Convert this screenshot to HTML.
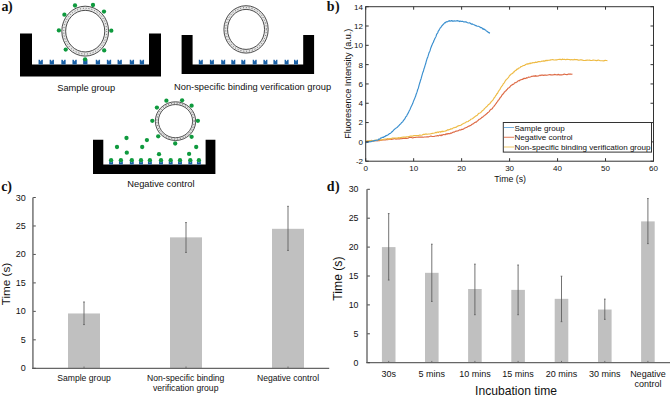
<!DOCTYPE html>
<html><head><meta charset="utf-8"><style>
html,body{margin:0;padding:0;background:#fff;width:671px;height:397px;overflow:hidden;position:relative;font-family:"Liberation Sans",sans-serif}
</style></head><body>
<svg width="671" height="397" viewBox="0 0 671 397" style="position:absolute;left:0;top:0">
<rect width="671" height="397" fill="#fff"/>
<text x="1.5" y="10.8" font-family="Liberation Serif, serif" font-weight="bold" font-size="14" letter-spacing="-0.4" fill="#111">a)</text>
<text x="326.8" y="10.8" font-family="Liberation Serif, serif" font-weight="bold" font-size="14" letter-spacing="0.3" fill="#111">b)</text>
<text x="1.3" y="190.6" font-family="Liberation Serif, serif" font-weight="bold" font-size="14" letter-spacing="-0.3" fill="#111">c)</text>
<text x="326.8" y="190.6" font-family="Liberation Serif, serif" font-weight="bold" font-size="14" letter-spacing="0.3" fill="#111">d)</text>
<path d="M20,33.5 H32 V64.5 H149 V33.5 H161 V76.6 H20 Z" fill="#000"/>
<path d="M38.55,59.8 L39.84,59.8 L40.70,61.5 L41.56,59.8 L42.85,59.8 L42.85,64.5 L38.55,64.5 Z" fill="#1a60a6"/>
<path d="M49.65,59.8 L50.94,59.8 L51.80,61.5 L52.66,59.8 L53.95,59.8 L53.95,64.5 L49.65,64.5 Z" fill="#1a60a6"/>
<path d="M61.35,59.8 L62.64,59.8 L63.50,61.5 L64.36,59.8 L65.65,59.8 L65.65,64.5 L61.35,64.5 Z" fill="#1a60a6"/>
<path d="M72.45,59.8 L73.74,59.8 L74.60,61.5 L75.46,59.8 L76.75,59.8 L76.75,64.5 L72.45,64.5 Z" fill="#1a60a6"/>
<path d="M83.15,59.8 L84.44,59.8 L85.30,61.5 L86.16,59.8 L87.45,59.8 L87.45,64.5 L83.15,64.5 Z" fill="#1a60a6"/>
<path d="M95.75,59.8 L97.04,59.8 L97.90,61.5 L98.76,59.8 L100.05,59.8 L100.05,64.5 L95.75,64.5 Z" fill="#1a60a6"/>
<path d="M106.85,59.8 L108.14,59.8 L109.00,61.5 L109.86,59.8 L111.15,59.8 L111.15,64.5 L106.85,64.5 Z" fill="#1a60a6"/>
<path d="M117.55,59.8 L118.84,59.8 L119.70,61.5 L120.56,59.8 L121.85,59.8 L121.85,64.5 L117.55,64.5 Z" fill="#1a60a6"/>
<path d="M129.75,59.8 L131.04,59.8 L131.90,61.5 L132.76,59.8 L134.05,59.8 L134.05,64.5 L129.75,64.5 Z" fill="#1a60a6"/>
<path d="M139.75,59.8 L141.04,59.8 L141.90,61.5 L142.76,59.8 L144.05,59.8 L144.05,64.5 L139.75,64.5 Z" fill="#1a60a6"/>
<ellipse cx="85.2" cy="31.15" rx="21.48" ry="22.88" fill="none" stroke="#e6e6e6" stroke-width="3.85"/>
<ellipse cx="85.2" cy="31.15" rx="21.48" ry="22.88" fill="none" stroke="#5a5a5a" stroke-width="1" stroke-dasharray="0.9 2"/>
<ellipse cx="85.2" cy="31.15" rx="23.4" ry="24.95" fill="none" stroke="#3a3a3a" stroke-width="0.9"/>
<ellipse cx="85.2" cy="31.15" rx="19.55" ry="20.8" fill="none" stroke="#3a3a3a" stroke-width="0.9"/>
<circle cx="75" cy="5.5" r="2.15" fill="#0f9a3e"/>
<circle cx="93" cy="5" r="2.15" fill="#0f9a3e"/>
<circle cx="104" cy="11.6" r="2.15" fill="#0f9a3e"/>
<circle cx="111.3" cy="30.7" r="2.15" fill="#0f9a3e"/>
<circle cx="104.2" cy="50.4" r="2.15" fill="#0f9a3e"/>
<circle cx="85.1" cy="59.3" r="2.15" fill="#0f9a3e"/>
<circle cx="65.7" cy="49.6" r="2.15" fill="#0f9a3e"/>
<circle cx="58.9" cy="30.4" r="2.15" fill="#0f9a3e"/>
<circle cx="64.4" cy="14.7" r="2.15" fill="#0f9a3e"/>
<text x="86.2" y="91.3" font-family="Liberation Sans, sans-serif" font-size="9.3" fill="#111" text-anchor="middle">Sample group</text>
<path d="M181.6,35 H192.6 V64.6 H303.2 V35 H314.1 V74 H181.6 Z" fill="#000"/>
<path d="M198.80,59.8 L200.00,59.8 L200.80,61.5 L201.60,59.8 L202.80,59.8 L202.80,64.6 L198.80,64.6 Z" fill="#1a60a6"/>
<path d="M209.90,59.8 L211.10,59.8 L211.90,61.5 L212.70,59.8 L213.90,59.8 L213.90,64.6 L209.90,64.6 Z" fill="#1a60a6"/>
<path d="M221.20,59.8 L222.40,59.8 L223.20,61.5 L224.00,59.8 L225.20,59.8 L225.20,64.6 L221.20,64.6 Z" fill="#1a60a6"/>
<path d="M231.30,59.8 L232.50,59.8 L233.30,61.5 L234.10,59.8 L235.30,59.8 L235.30,64.6 L231.30,64.6 Z" fill="#1a60a6"/>
<path d="M241.30,59.8 L242.50,59.8 L243.30,61.5 L244.10,59.8 L245.30,59.8 L245.30,64.6 L241.30,64.6 Z" fill="#1a60a6"/>
<path d="M252.70,59.8 L253.90,59.8 L254.70,61.5 L255.50,59.8 L256.70,59.8 L256.70,64.6 L252.70,64.6 Z" fill="#1a60a6"/>
<path d="M263.40,59.8 L264.60,59.8 L265.40,61.5 L266.20,59.8 L267.40,59.8 L267.40,64.6 L263.40,64.6 Z" fill="#1a60a6"/>
<path d="M273.40,59.8 L274.60,59.8 L275.40,61.5 L276.20,59.8 L277.40,59.8 L277.40,64.6 L273.40,64.6 Z" fill="#1a60a6"/>
<path d="M284.60,59.8 L285.80,59.8 L286.60,61.5 L287.40,59.8 L288.60,59.8 L288.60,64.6 L284.60,64.6 Z" fill="#1a60a6"/>
<path d="M294.00,59.8 L295.20,59.8 L296.00,61.5 L296.80,59.8 L298.00,59.8 L298.00,64.6 L294.00,64.6 Z" fill="#1a60a6"/>
<ellipse cx="246.05" cy="29.4" rx="20.32" ry="21.85" fill="none" stroke="#e6e6e6" stroke-width="3.65"/>
<ellipse cx="246.05" cy="29.4" rx="20.32" ry="21.85" fill="none" stroke="#5a5a5a" stroke-width="1" stroke-dasharray="0.9 2"/>
<ellipse cx="246.05" cy="29.4" rx="22.15" ry="23.7" fill="none" stroke="#3a3a3a" stroke-width="0.9"/>
<ellipse cx="246.05" cy="29.4" rx="18.5" ry="20" fill="none" stroke="#3a3a3a" stroke-width="0.9"/>
<text x="252.6" y="90" font-family="Liberation Sans, sans-serif" font-size="9.3" fill="#111" text-anchor="middle">Non-specific binding verification group</text>
<path d="M93,139.8 H103.3 V164.6 H205.6 V139.8 H215.4 V174.1 H93 Z" fill="#000"/>
<path d="M109.15,161.3 L110.32,161.3 L111.10,163.0 L111.88,161.3 L113.05,161.3 L113.05,164.6 L109.15,164.6 Z" fill="#1a60a6"/>
<circle cx="111.1" cy="160.2" r="2.15" fill="#0f9a3e"/>
<path d="M118.95,161.3 L120.12,161.3 L120.90,163.0 L121.68,161.3 L122.85,161.3 L122.85,164.6 L118.95,164.6 Z" fill="#1a60a6"/>
<circle cx="120.9" cy="160.2" r="2.15" fill="#0f9a3e"/>
<path d="M129.85,161.3 L131.02,161.3 L131.80,163.0 L132.58,161.3 L133.75,161.3 L133.75,164.6 L129.85,164.6 Z" fill="#1a60a6"/>
<circle cx="131.8" cy="160.2" r="2.15" fill="#0f9a3e"/>
<path d="M139.05,161.3 L140.22,161.3 L141.00,163.0 L141.78,161.3 L142.95,161.3 L142.95,164.6 L139.05,164.6 Z" fill="#1a60a6"/>
<circle cx="141" cy="160.2" r="2.15" fill="#0f9a3e"/>
<path d="M147.95,161.3 L149.12,161.3 L149.90,163.0 L150.68,161.3 L151.85,161.3 L151.85,164.6 L147.95,164.6 Z" fill="#1a60a6"/>
<circle cx="149.9" cy="160.2" r="2.15" fill="#0f9a3e"/>
<path d="M159.05,161.3 L160.22,161.3 L161.00,163.0 L161.78,161.3 L162.95,161.3 L162.95,164.6 L159.05,164.6 Z" fill="#1a60a6"/>
<circle cx="161" cy="160.2" r="2.15" fill="#0f9a3e"/>
<path d="M168.75,161.3 L169.92,161.3 L170.70,163.0 L171.48,161.3 L172.65,161.3 L172.65,164.6 L168.75,164.6 Z" fill="#1a60a6"/>
<circle cx="170.7" cy="160.2" r="2.15" fill="#0f9a3e"/>
<path d="M178.05,161.3 L179.22,161.3 L180.00,163.0 L180.78,161.3 L181.95,161.3 L181.95,164.6 L178.05,164.6 Z" fill="#1a60a6"/>
<circle cx="180" cy="160.2" r="2.15" fill="#0f9a3e"/>
<path d="M188.35,161.3 L189.52,161.3 L190.30,163.0 L191.08,161.3 L192.25,161.3 L192.25,164.6 L188.35,164.6 Z" fill="#1a60a6"/>
<circle cx="190.3" cy="160.2" r="2.15" fill="#0f9a3e"/>
<path d="M196.95,161.3 L198.12,161.3 L198.90,163.0 L199.68,161.3 L200.85,161.3 L200.85,164.6 L196.95,164.6 Z" fill="#1a60a6"/>
<circle cx="198.9" cy="160.2" r="2.15" fill="#0f9a3e"/>
<ellipse cx="175.5" cy="121.15" rx="18.65" ry="17.98" fill="none" stroke="#e6e6e6" stroke-width="3.10"/>
<ellipse cx="175.5" cy="121.15" rx="18.65" ry="17.98" fill="none" stroke="#5a5a5a" stroke-width="1" stroke-dasharray="0.9 2"/>
<ellipse cx="175.5" cy="121.15" rx="20.2" ry="19.35" fill="none" stroke="#3a3a3a" stroke-width="0.85"/>
<ellipse cx="175.5" cy="121.15" rx="17.1" ry="16.6" fill="none" stroke="#3a3a3a" stroke-width="0.85"/>
<circle cx="166.4" cy="100.7" r="2.15" fill="#0f9a3e"/>
<circle cx="182.1" cy="100.3" r="2.15" fill="#0f9a3e"/>
<circle cx="191.6" cy="105.7" r="2.15" fill="#0f9a3e"/>
<circle cx="197.9" cy="120.8" r="2.15" fill="#0f9a3e"/>
<circle cx="191.6" cy="136.8" r="2.15" fill="#0f9a3e"/>
<circle cx="175.2" cy="143.5" r="2.15" fill="#0f9a3e"/>
<circle cx="158.2" cy="136.3" r="2.15" fill="#0f9a3e"/>
<circle cx="152.3" cy="120.8" r="2.15" fill="#0f9a3e"/>
<circle cx="156.9" cy="107.6" r="2.15" fill="#0f9a3e"/>
<circle cx="126.5" cy="138" r="2.15" fill="#0f9a3e"/>
<circle cx="117" cy="147" r="2.15" fill="#0f9a3e"/>
<circle cx="126.8" cy="152.7" r="2.15" fill="#0f9a3e"/>
<circle cx="146.9" cy="140.1" r="2.15" fill="#0f9a3e"/>
<circle cx="142.2" cy="147" r="2.15" fill="#0f9a3e"/>
<circle cx="159" cy="154.2" r="2.15" fill="#0f9a3e"/>
<circle cx="196.2" cy="147" r="2.15" fill="#0f9a3e"/>
<circle cx="189.1" cy="153.9" r="2.15" fill="#0f9a3e"/>
<text x="160.9" y="186.7" font-family="Liberation Sans, sans-serif" font-size="9.3" fill="#111" text-anchor="middle">Negative control</text>
<path d="M365.70,141.59 L366.37,141.76 L367.23,141.53 L368.24,141.61 L369.38,141.51 L370.61,140.93 L371.90,140.75 L373.22,141.27 L374.53,140.67 L375.80,140.51 L377.00,141.00 L378.16,140.45 L379.32,140.62 L380.50,140.21 L381.67,140.22 L382.86,139.70 L384.04,139.97 L385.23,140.03 L386.42,139.64 L387.61,139.70 L388.80,139.54 L389.99,138.95 L391.19,139.41 L392.39,139.18 L393.59,138.86 L394.79,138.56 L396.00,139.14 L397.20,138.74 L398.40,138.85 L399.60,138.89 L400.80,138.67 L401.99,138.75 L403.19,138.23 L404.38,138.47 L405.57,138.09 L406.76,138.39 L407.94,138.26 L409.13,137.54 L410.32,137.48 L411.51,137.46 L412.70,137.97 L413.89,137.47 L415.08,137.54 L416.27,137.20 L417.46,137.29 L418.65,137.11 L419.84,137.01 L421.03,137.12 L422.22,137.04 L423.41,137.21 L424.60,136.95 L425.81,137.05 L427.07,136.90 L428.34,136.90 L429.62,136.55 L430.89,136.04 L432.13,136.49 L433.33,136.47 L434.47,136.32 L435.53,135.95 L436.50,135.97 L437.37,135.48 L438.15,135.89 L438.86,135.60 L439.51,135.28 L440.11,135.03 L440.69,135.57 L441.25,135.60 L441.81,134.78 L442.39,135.25 L443.00,134.83 L443.61,134.51 L444.20,134.51 L444.77,134.77 L445.33,134.74 L445.89,133.95 L446.47,134.27 L447.07,133.67 L447.70,134.05 L448.37,133.56 L449.10,133.80 L449.88,133.67 L450.71,133.07 L451.58,133.22 L452.49,132.41 L453.41,131.96 L454.35,132.10 L455.30,131.36 L456.25,131.19 L457.18,131.05 L458.10,130.89 L459.01,130.20 L459.91,129.77 L460.82,130.08 L461.73,129.28 L462.64,129.43 L463.56,129.00 L464.47,128.19 L465.38,127.84 L466.29,127.46 L467.20,127.12 L468.11,126.61 L469.02,126.11 L469.93,125.66 L470.84,125.41 L471.76,124.54 L472.67,123.94 L473.58,123.62 L474.49,122.67 L475.39,122.14 L476.30,122.08 L477.21,121.10 L478.13,120.48 L479.05,119.40 L479.97,119.04 L480.89,118.49 L481.81,117.34 L482.71,117.12 L483.59,116.42 L484.46,115.26 L485.30,115.00 L486.13,114.16 L486.96,113.60 L487.77,112.59 L488.58,112.13 L489.37,111.40 L490.14,110.08 L490.88,109.37 L491.59,109.14 L492.26,108.66 L492.90,107.40 L493.48,106.91 L494.00,106.39 L494.48,105.58 L494.93,105.02 L495.35,104.40 L495.77,103.86 L496.19,103.44 L496.62,102.58 L497.09,101.99 L497.60,101.62 L498.15,100.28 L498.72,99.93 L499.30,99.24 L499.91,98.06 L500.52,97.13 L501.14,96.74 L501.76,95.45 L502.38,94.59 L502.99,93.99 L503.60,93.46 L504.20,92.27 L504.80,91.75 L505.40,91.09 L506.00,90.83 L506.59,89.88 L507.19,89.59 L507.79,88.44 L508.39,87.99 L509.00,87.67 L509.60,87.31 L510.21,86.43 L510.82,85.74 L511.43,85.17 L512.04,85.02 L512.65,84.30 L513.26,84.35 L513.87,83.95 L514.48,83.02 L515.09,82.70 L515.70,82.75 L516.30,82.25 L516.90,82.03 L517.50,81.34 L518.10,80.85 L518.70,80.68 L519.30,80.80 L519.90,80.10 L520.50,79.90 L521.10,79.69 L521.70,79.44 L522.31,79.18 L522.92,79.34 L523.53,78.50 L524.14,78.16 L524.75,78.69 L525.36,78.44 L525.97,78.33 L526.58,77.70 L527.19,77.93 L527.80,77.74 L528.40,77.02 L529.00,77.29 L529.60,77.23 L530.20,76.96 L530.80,76.73 L531.40,76.43 L532.00,76.37 L532.60,76.18 L533.20,75.95 L533.80,76.27 L534.39,75.94 L534.95,76.28 L535.50,75.59 L536.04,76.21 L536.59,75.97 L537.17,76.10 L537.77,76.01 L538.42,75.95 L539.13,75.63 L539.90,75.11 L540.75,75.62 L541.66,75.09 L542.63,75.11 L543.64,75.33 L544.68,75.14 L545.75,74.98 L546.82,75.32 L547.90,75.00 L548.96,74.72 L550.00,74.60 L551.02,75.05 L552.04,74.71 L553.05,74.94 L554.06,74.58 L555.08,74.44 L556.11,74.70 L557.15,74.91 L558.21,74.38 L559.29,74.86 L560.40,74.94 L561.59,74.81 L562.89,74.79 L564.26,74.09 L565.66,74.54 L567.05,74.68 L568.39,73.98 L569.63,74.11 L570.74,74.07 L571.68,74.25 L572.40,74.14" fill="none" stroke="#dd6a45" stroke-width="1.15" stroke-linejoin="round"/>
<path d="M365.70,141.28 L366.36,141.46 L367.21,140.77 L368.21,140.73 L369.34,140.70 L370.56,140.59 L371.83,140.44 L373.14,141.05 L374.44,140.83 L375.70,140.09 L376.90,140.30 L378.06,140.02 L379.23,139.88 L380.42,139.76 L381.60,139.84 L382.80,139.64 L384.00,139.30 L385.20,139.00 L386.40,138.96 L387.60,138.64 L388.80,138.84 L390.00,138.84 L391.20,138.43 L392.40,138.07 L393.60,138.02 L394.80,138.05 L396.00,138.11 L397.20,138.12 L398.40,137.67 L399.60,137.88 L400.80,137.60 L401.99,137.30 L403.19,137.11 L404.38,137.06 L405.57,137.08 L406.76,136.71 L407.94,136.77 L409.13,136.43 L410.32,136.11 L411.51,136.18 L412.70,136.16 L413.89,135.50 L415.08,135.63 L416.27,135.47 L417.46,135.68 L418.65,135.57 L419.84,134.96 L421.03,135.22 L422.22,134.97 L423.41,134.38 L424.60,134.37 L425.82,133.92 L427.08,134.29 L428.37,133.98 L429.67,133.97 L430.95,133.70 L432.20,133.41 L433.40,133.27 L434.53,132.96 L435.57,132.43 L436.50,132.67 L437.30,132.08 L437.98,132.08 L438.57,132.49 L439.08,131.83 L439.55,131.79 L439.99,131.71 L440.43,132.25 L440.90,131.59 L441.41,131.36 L442.00,131.87 L442.64,131.14 L443.29,131.56 L443.95,131.26 L444.63,131.21 L445.33,131.11 L446.05,130.61 L446.78,130.57 L447.53,129.73 L448.31,130.08 L449.10,129.61 L449.92,129.49 L450.78,128.71 L451.66,128.92 L452.56,128.74 L453.48,127.71 L454.40,127.57 L455.33,127.40 L456.26,127.24 L457.19,126.38 L458.10,125.94 L459.01,125.60 L459.91,125.49 L460.82,125.18 L461.73,124.47 L462.64,124.01 L463.56,123.58 L464.47,123.08 L465.38,122.65 L466.29,121.88 L467.20,121.70 L468.11,121.55 L469.02,120.55 L469.93,120.26 L470.84,119.21 L471.76,119.05 L472.67,118.49 L473.58,117.80 L474.49,117.04 L475.39,116.36 L476.30,115.81 L477.21,115.33 L478.13,114.01 L479.05,113.24 L479.97,113.01 L480.89,112.38 L481.81,111.28 L482.71,110.44 L483.59,109.87 L484.46,108.64 L485.30,107.91 L486.13,107.04 L486.97,106.50 L487.81,105.42 L488.63,104.47 L489.44,103.95 L490.22,103.29 L490.96,101.92 L491.66,101.44 L492.31,100.44 L492.90,100.08 L493.41,99.24 L493.84,98.44 L494.21,97.91 L494.53,97.30 L494.82,97.23 L495.11,96.71 L495.40,96.08 L495.72,95.72 L496.08,95.12 L496.50,94.82 L496.98,93.56 L497.49,93.42 L498.02,92.13 L498.58,91.31 L499.15,90.26 L499.74,89.59 L500.33,88.61 L500.92,87.45 L501.51,86.47 L502.10,85.78 L502.68,85.03 L503.27,83.81 L503.87,83.22 L504.47,82.56 L505.07,81.33 L505.67,80.32 L506.28,79.53 L506.89,79.14 L507.49,78.36 L508.10,77.87 L508.71,77.10 L509.32,75.95 L509.93,75.27 L510.54,74.71 L511.15,74.06 L511.76,73.90 L512.37,73.46 L512.98,72.96 L513.59,71.92 L514.20,71.89 L514.80,70.96 L515.40,70.57 L516.00,70.36 L516.60,69.41 L517.20,68.99 L517.80,69.18 L518.40,68.35 L519.00,68.02 L519.60,67.83 L520.20,67.54 L520.81,66.65 L521.42,66.57 L522.03,66.32 L522.64,66.04 L523.25,65.51 L523.86,65.51 L524.47,65.52 L525.08,64.80 L525.69,64.67 L526.30,64.10 L526.90,64.00 L527.50,64.11 L528.10,63.49 L528.70,63.94 L529.30,63.80 L529.90,63.01 L530.50,63.54 L531.10,62.96 L531.70,63.15 L532.30,63.01 L532.91,62.51 L533.52,62.70 L534.13,62.58 L534.74,62.60 L535.35,62.07 L535.96,62.37 L536.57,62.44 L537.18,62.12 L537.79,61.92 L538.40,61.49 L539.01,61.70 L539.61,61.49 L540.22,61.69 L540.83,61.57 L541.43,61.39 L542.03,60.99 L542.63,61.28 L543.23,61.18 L543.82,60.73 L544.40,61.21 L544.95,60.94 L545.47,60.43 L545.96,60.99 L546.44,60.28 L546.92,60.35 L547.43,60.58 L547.98,60.40 L548.58,60.29 L549.25,60.29 L550.00,60.07 L550.85,59.88 L551.77,59.70 L552.76,59.54 L553.81,59.98 L554.89,59.95 L556.00,59.71 L557.12,59.81 L558.24,59.46 L559.33,59.34 L560.40,59.41 L561.45,59.78 L562.50,59.10 L563.55,59.47 L564.60,59.27 L565.65,59.70 L566.70,59.38 L567.75,59.38 L568.80,59.47 L569.85,59.60 L570.90,59.82 L571.94,59.52 L572.99,59.96 L574.03,59.42 L575.07,59.60 L576.11,59.52 L577.14,59.59 L578.18,60.18 L579.22,60.19 L580.26,59.80 L581.30,59.85 L582.32,60.07 L583.30,60.37 L584.25,60.46 L585.21,60.44 L586.17,60.35 L587.16,60.02 L588.19,60.25 L589.28,60.11 L590.45,60.40 L591.70,60.45 L593.13,60.18 L594.75,60.23 L596.51,60.67 L598.35,60.08 L600.20,60.71 L602.00,60.79 L603.68,60.84 L605.18,60.40 L606.44,60.54 L607.40,60.57" fill="none" stroke="#eebb45" stroke-width="1.15" stroke-linejoin="round"/>
<path d="M365.70,142.51 L366.01,142.73 L366.41,142.43 L366.88,142.05 L367.41,142.42 L367.98,142.02 L368.58,142.02 L369.20,142.02 L369.82,141.33 L370.42,141.83 L371.00,141.63 L371.57,141.38 L372.14,141.29 L372.72,141.13 L373.31,140.80 L373.91,140.94 L374.50,140.41 L375.10,140.64 L375.70,140.59 L376.30,140.25 L376.90,140.15 L377.50,140.25 L378.10,139.95 L378.70,139.08 L379.30,139.33 L379.90,138.91 L380.50,138.16 L381.10,138.10 L381.70,137.69 L382.30,137.26 L382.90,137.33 L383.49,137.35 L384.08,136.57 L384.67,136.71 L385.26,136.28 L385.85,135.53 L386.44,135.79 L387.03,135.26 L387.62,135.18 L388.21,134.66 L388.80,134.29 L389.40,133.57 L389.99,133.52 L390.59,133.18 L391.19,132.67 L391.79,131.86 L392.40,131.64 L393.00,130.93 L393.60,130.12 L394.20,129.56 L394.80,129.06 L395.41,128.63 L396.02,128.04 L396.64,127.74 L397.26,127.33 L397.88,126.61 L398.49,125.92 L399.09,125.51 L399.68,124.63 L400.25,124.16 L400.80,123.81 L401.33,122.95 L401.83,122.23 L402.31,122.27 L402.77,121.60 L403.23,120.78 L403.69,120.22 L404.15,119.75 L404.61,119.16 L405.10,118.16 L405.60,117.20 L406.12,116.52 L406.65,116.09 L407.20,114.64 L407.74,113.91 L408.30,112.67 L408.86,111.61 L409.42,110.47 L409.98,109.52 L410.54,108.15 L411.10,106.82 L411.66,105.64 L412.22,104.40 L412.78,103.33 L413.34,101.63 L413.90,100.20 L414.46,99.10 L415.02,97.59 L415.58,96.31 L416.14,94.24 L416.70,92.92 L417.25,91.27 L417.80,89.25 L418.35,88.23 L418.90,85.82 L419.45,83.88 L420.00,82.31 L420.55,80.19 L421.10,78.69 L421.65,76.61 L422.20,74.60 L422.76,72.69 L423.34,71.33 L423.92,69.04 L424.50,67.52 L425.09,65.33 L425.66,63.82 L426.23,61.48 L426.77,59.69 L427.30,58.05 L427.80,56.95 L428.27,55.40 L428.71,53.88 L429.14,52.48 L429.54,51.83 L429.94,51.00 L430.32,49.68 L430.71,48.21 L431.10,47.25 L431.49,46.30 L431.90,45.34 L432.32,44.19 L432.73,43.17 L433.15,42.62 L433.57,41.81 L433.99,40.25 L434.42,39.89 L434.84,38.53 L435.26,37.85 L435.68,37.03 L436.10,36.15 L436.52,34.55 L436.94,33.91 L437.36,33.30 L437.78,32.75 L438.21,31.26 L438.63,30.64 L439.05,30.34 L439.47,29.03 L439.88,28.56 L440.30,27.87 L440.71,27.53 L441.13,27.14 L441.54,25.99 L441.95,25.92 L442.36,25.42 L442.77,25.04 L443.18,24.38 L443.59,24.27 L443.99,23.44 L444.40,23.13 L444.80,22.67 L445.20,22.84 L445.60,22.36 L446.00,21.98 L446.39,21.72 L446.79,22.00 L447.19,21.76 L447.59,21.71 L447.99,21.33 L448.40,21.29 L448.80,20.91 L449.19,21.26 L449.56,20.64 L449.94,20.93 L450.32,21.11 L450.72,21.01 L451.14,20.52 L451.59,20.61 L452.07,21.08 L452.60,20.91 L453.16,21.10 L453.76,21.10 L454.38,20.77 L455.02,21.15 L455.69,21.05 L456.39,20.77 L457.11,20.85 L457.85,20.68 L458.62,21.02 L459.40,21.56 L460.22,20.99 L461.07,21.49 L461.96,21.25 L462.87,21.37 L463.81,21.99 L464.75,21.83 L465.70,21.87 L466.64,22.16 L467.58,22.77 L468.50,22.97 L469.42,22.77 L470.36,23.24 L471.30,24.15 L472.25,23.88 L473.19,24.50 L474.13,24.74 L475.04,25.38 L475.93,25.60 L476.78,26.09 L477.60,26.23 L478.38,26.28 L479.13,26.59 L479.85,26.84 L480.54,27.76 L481.22,27.51 L481.88,27.76 L482.52,28.85 L483.15,28.57 L483.78,29.46 L484.40,29.17 L485.03,29.85 L485.69,30.07 L486.34,30.99 L487.00,31.26 L487.62,31.72 L488.22,32.24 L488.77,32.72 L489.26,32.65 L489.67,33.15 L490.00,33.26" fill="none" stroke="#3a8fcf" stroke-width="1.15" stroke-linejoin="round"/>
<rect x="365.7" y="6.7" width="287.8" height="154.5" fill="none" stroke="#333" stroke-width="1"/>
<path d="M365.70,161.2 v-3 M365.70,6.7 v3" stroke="#333" stroke-width="1"/>
<text x="365.70" y="171.3" font-family="Liberation Sans, sans-serif" font-size="8" fill="#111" text-anchor="middle">0</text>
<path d="M413.67,161.2 v-3 M413.67,6.7 v3" stroke="#333" stroke-width="1"/>
<text x="413.67" y="171.3" font-family="Liberation Sans, sans-serif" font-size="8" fill="#111" text-anchor="middle">10</text>
<path d="M461.63,161.2 v-3 M461.63,6.7 v3" stroke="#333" stroke-width="1"/>
<text x="461.63" y="171.3" font-family="Liberation Sans, sans-serif" font-size="8" fill="#111" text-anchor="middle">20</text>
<path d="M509.60,161.2 v-3 M509.60,6.7 v3" stroke="#333" stroke-width="1"/>
<text x="509.60" y="171.3" font-family="Liberation Sans, sans-serif" font-size="8" fill="#111" text-anchor="middle">30</text>
<path d="M557.57,161.2 v-3 M557.57,6.7 v3" stroke="#333" stroke-width="1"/>
<text x="557.57" y="171.3" font-family="Liberation Sans, sans-serif" font-size="8" fill="#111" text-anchor="middle">40</text>
<path d="M605.53,161.2 v-3 M605.53,6.7 v3" stroke="#333" stroke-width="1"/>
<text x="605.53" y="171.3" font-family="Liberation Sans, sans-serif" font-size="8" fill="#111" text-anchor="middle">50</text>
<path d="M653.50,161.2 v-3 M653.50,6.7 v3" stroke="#333" stroke-width="1"/>
<text x="653.50" y="171.3" font-family="Liberation Sans, sans-serif" font-size="8" fill="#111" text-anchor="middle">60</text>
<path d="M365.7,161.20 h3 M653.5,161.20 h-3" stroke="#333" stroke-width="1"/>
<text x="363" y="164.10" font-family="Liberation Sans, sans-serif" font-size="8" fill="#111" text-anchor="end">-2</text>
<path d="M365.7,141.89 h3 M653.5,141.89 h-3" stroke="#333" stroke-width="1"/>
<text x="363" y="144.79" font-family="Liberation Sans, sans-serif" font-size="8" fill="#111" text-anchor="end">0</text>
<path d="M365.7,122.57 h3 M653.5,122.57 h-3" stroke="#333" stroke-width="1"/>
<text x="363" y="125.47" font-family="Liberation Sans, sans-serif" font-size="8" fill="#111" text-anchor="end">2</text>
<path d="M365.7,103.26 h3 M653.5,103.26 h-3" stroke="#333" stroke-width="1"/>
<text x="363" y="106.16" font-family="Liberation Sans, sans-serif" font-size="8" fill="#111" text-anchor="end">4</text>
<path d="M365.7,83.95 h3 M653.5,83.95 h-3" stroke="#333" stroke-width="1"/>
<text x="363" y="86.85" font-family="Liberation Sans, sans-serif" font-size="8" fill="#111" text-anchor="end">6</text>
<path d="M365.7,64.64 h3 M653.5,64.64 h-3" stroke="#333" stroke-width="1"/>
<text x="363" y="67.54" font-family="Liberation Sans, sans-serif" font-size="8" fill="#111" text-anchor="end">8</text>
<path d="M365.7,45.32 h3 M653.5,45.32 h-3" stroke="#333" stroke-width="1"/>
<text x="363" y="48.22" font-family="Liberation Sans, sans-serif" font-size="8" fill="#111" text-anchor="end">10</text>
<path d="M365.7,26.01 h3 M653.5,26.01 h-3" stroke="#333" stroke-width="1"/>
<text x="363" y="28.91" font-family="Liberation Sans, sans-serif" font-size="8" fill="#111" text-anchor="end">12</text>
<path d="M365.7,6.70 h3 M653.5,6.70 h-3" stroke="#333" stroke-width="1"/>
<text x="363" y="9.60" font-family="Liberation Sans, sans-serif" font-size="8" fill="#111" text-anchor="end">14</text>
<text x="510.1" y="182" font-family="Liberation Sans, sans-serif" font-size="8.8" fill="#111" text-anchor="middle">Time (s)</text>
<text transform="translate(351,83.7) rotate(-90)" font-family="Liberation Sans, sans-serif" font-size="9.1" fill="#111" text-anchor="middle">Fluoresence Intensity (a.u.)</text>
<rect x="503.3" y="122.5" width="148.2" height="29.6" fill="#fff" stroke="#333" stroke-width="1"/>
<path d="M504,127.50 H514" stroke="#74b1e0" stroke-width="1"/>
<text x="514.5" y="130.50" font-family="Liberation Sans, sans-serif" font-size="8.05" fill="#111">Sample group</text>
<path d="M504,137.25 H514" stroke="#e57a55" stroke-width="1"/>
<text x="514.5" y="140.25" font-family="Liberation Sans, sans-serif" font-size="8.05" fill="#111">Negative control</text>
<path d="M504,147.00 H514" stroke="#f0c96a" stroke-width="1"/>
<text x="514.5" y="150.00" font-family="Liberation Sans, sans-serif" font-size="8.05" fill="#111">Non-specific binding verification group</text>
<rect x="68" y="313.47" width="32" height="54.83" fill="#c0c0c0"/>
<path d="M84,301.97 V324.58 M83.2,301.97 h1.6 M83.2,324.58 h1.6" stroke="#5a5a5a" stroke-width="0.85"/>
<rect x="170" y="237.35" width="32" height="130.95" fill="#c0c0c0"/>
<path d="M186,222.55 V252.44 M185.2,222.55 h1.6 M185.2,252.44 h1.6" stroke="#5a5a5a" stroke-width="0.85"/>
<rect x="272" y="228.81" width="32" height="139.49" fill="#c0c0c0"/>
<path d="M288,206.32 V250.45 M287.2,206.32 h1.6 M287.2,250.45 h1.6" stroke="#5a5a5a" stroke-width="0.85"/>
<path d="M84,368.3 v-1.8" stroke="#666" stroke-width="0.9"/>
<path d="M186,368.3 v-1.8" stroke="#666" stroke-width="0.9"/>
<path d="M288,368.3 v-1.8" stroke="#666" stroke-width="0.9"/>
<path d="M32.900000000000006,197.5 V368.3" fill="none" stroke="#8a8a8a" stroke-width="1.8"/>
<path d="M32.0,368.3 H329.2" fill="none" stroke="#666" stroke-width="1.2"/>
<path d="M33.2,368.30 h2.6" stroke="#505050" stroke-width="1"/>
<text x="25.8" y="371.30" font-family="Liberation Sans, sans-serif" font-size="9" fill="#111" text-anchor="end">0</text>
<path d="M33.2,339.83 h2.6" stroke="#505050" stroke-width="1"/>
<text x="25.8" y="342.83" font-family="Liberation Sans, sans-serif" font-size="9" fill="#111" text-anchor="end">5</text>
<path d="M33.2,311.37 h2.6" stroke="#505050" stroke-width="1"/>
<text x="25.8" y="314.37" font-family="Liberation Sans, sans-serif" font-size="9" fill="#111" text-anchor="end">10</text>
<path d="M33.2,282.90 h2.6" stroke="#505050" stroke-width="1"/>
<text x="25.8" y="285.90" font-family="Liberation Sans, sans-serif" font-size="9" fill="#111" text-anchor="end">15</text>
<path d="M33.2,254.43 h2.6" stroke="#505050" stroke-width="1"/>
<text x="25.8" y="257.43" font-family="Liberation Sans, sans-serif" font-size="9" fill="#111" text-anchor="end">20</text>
<path d="M33.2,225.97 h2.6" stroke="#505050" stroke-width="1"/>
<text x="25.8" y="228.97" font-family="Liberation Sans, sans-serif" font-size="9" fill="#111" text-anchor="end">25</text>
<path d="M33.2,197.50 h2.6" stroke="#505050" stroke-width="1"/>
<text x="25.8" y="200.50" font-family="Liberation Sans, sans-serif" font-size="9" fill="#111" text-anchor="end">30</text>
<text transform="translate(9.8,284) rotate(-90)" font-family="Liberation Sans, sans-serif" font-size="11.7" fill="#111" text-anchor="middle">Time (s)</text>
<text x="84" y="380.8" font-family="Liberation Sans, sans-serif" font-size="8.6" fill="#111" text-anchor="middle">Sample group</text>
<text x="185.7" y="380.8" font-family="Liberation Sans, sans-serif" font-size="8.6" fill="#111" text-anchor="middle">Non-specific binding</text>
<text x="185.7" y="390.8" font-family="Liberation Sans, sans-serif" font-size="8.6" fill="#111" text-anchor="middle">verification group</text>
<text x="288" y="380.8" font-family="Liberation Sans, sans-serif" font-size="8.6" fill="#111" text-anchor="middle">Negative control</text>
<rect x="381.90" y="247.10" width="13.6" height="115.60" fill="#c0c0c0"/>
<path d="M388.7,213.58 V280.05 M387.9,213.58 h1.6 M387.9,280.05 h1.6" stroke="#5a5a5a" stroke-width="0.85"/>
<rect x="425.00" y="272.82" width="13.6" height="89.88" fill="#c0c0c0"/>
<path d="M431.8,244.21 V301.43 M431.0,244.21 h1.6 M431.0,301.43 h1.6" stroke="#5a5a5a" stroke-width="0.85"/>
<rect x="468.10" y="289.00" width="13.6" height="73.69" fill="#c0c0c0"/>
<path d="M474.9,264.15 V314.73 M474.09999999999997,264.15 h1.6 M474.09999999999997,314.73 h1.6" stroke="#5a5a5a" stroke-width="0.85"/>
<rect x="511.30" y="289.87" width="13.6" height="72.83" fill="#c0c0c0"/>
<path d="M518.1,265.02 V314.73 M517.3000000000001,265.02 h1.6 M517.3000000000001,314.73 h1.6" stroke="#5a5a5a" stroke-width="0.85"/>
<rect x="554.70" y="298.83" width="13.6" height="63.87" fill="#c0c0c0"/>
<path d="M561.5,276.23 V321.66 M560.7,276.23 h1.6 M560.7,321.66 h1.6" stroke="#5a5a5a" stroke-width="0.85"/>
<rect x="598.00" y="309.52" width="13.6" height="53.18" fill="#c0c0c0"/>
<path d="M604.8,299.12 V319.35 M604.0,299.12 h1.6 M604.0,319.35 h1.6" stroke="#5a5a5a" stroke-width="0.85"/>
<rect x="641.10" y="221.38" width="13.6" height="141.32" fill="#c0c0c0"/>
<path d="M647.9,198.55 V243.63 M647.1,198.55 h1.6 M647.1,243.63 h1.6" stroke="#5a5a5a" stroke-width="0.85"/>
<path d="M388.7,362.7 v-1.8" stroke="#666" stroke-width="0.9"/>
<path d="M431.8,362.7 v-1.8" stroke="#666" stroke-width="0.9"/>
<path d="M474.9,362.7 v-1.8" stroke="#666" stroke-width="0.9"/>
<path d="M518.1,362.7 v-1.8" stroke="#666" stroke-width="0.9"/>
<path d="M561.5,362.7 v-1.8" stroke="#666" stroke-width="0.9"/>
<path d="M604.8,362.7 v-1.8" stroke="#666" stroke-width="0.9"/>
<path d="M647.9,362.7 v-1.8" stroke="#666" stroke-width="0.9"/>
<path d="M367.0,189.3 V362.7" fill="none" stroke="#8a8a8a" stroke-width="1.8"/>
<path d="M366.1,362.7 H670" fill="none" stroke="#666" stroke-width="1.2"/>
<path d="M367.3,362.70 h2.6" stroke="#444" stroke-width="1"/>
<text x="358.5" y="365.70" font-family="Liberation Sans, sans-serif" font-size="8.8" fill="#111" text-anchor="end">0</text>
<path d="M367.3,333.80 h2.6" stroke="#444" stroke-width="1"/>
<text x="358.5" y="336.80" font-family="Liberation Sans, sans-serif" font-size="8.8" fill="#111" text-anchor="end">5</text>
<path d="M367.3,304.90 h2.6" stroke="#444" stroke-width="1"/>
<text x="358.5" y="307.90" font-family="Liberation Sans, sans-serif" font-size="8.8" fill="#111" text-anchor="end">10</text>
<path d="M367.3,276.00 h2.6" stroke="#444" stroke-width="1"/>
<text x="358.5" y="279.00" font-family="Liberation Sans, sans-serif" font-size="8.8" fill="#111" text-anchor="end">15</text>
<path d="M367.3,247.10 h2.6" stroke="#444" stroke-width="1"/>
<text x="358.5" y="250.10" font-family="Liberation Sans, sans-serif" font-size="8.8" fill="#111" text-anchor="end">20</text>
<path d="M367.3,218.20 h2.6" stroke="#444" stroke-width="1"/>
<text x="358.5" y="221.20" font-family="Liberation Sans, sans-serif" font-size="8.8" fill="#111" text-anchor="end">25</text>
<path d="M367.3,189.30 h2.6" stroke="#444" stroke-width="1"/>
<text x="358.5" y="192.30" font-family="Liberation Sans, sans-serif" font-size="8.8" fill="#111" text-anchor="end">30</text>
<text transform="translate(342.3,278.6) rotate(-90)" font-family="Liberation Sans, sans-serif" font-size="12.2" fill="#111" text-anchor="middle">Time (s)</text>
<text x="388.7" y="376.6" font-family="Liberation Sans, sans-serif" font-size="9" fill="#111" text-anchor="middle">30s</text>
<text x="431.8" y="376.6" font-family="Liberation Sans, sans-serif" font-size="9" fill="#111" text-anchor="middle">5 mins</text>
<text x="474.9" y="376.6" font-family="Liberation Sans, sans-serif" font-size="9" fill="#111" text-anchor="middle">10 mins</text>
<text x="518.1" y="376.6" font-family="Liberation Sans, sans-serif" font-size="9" fill="#111" text-anchor="middle">15 mins</text>
<text x="561.5" y="376.6" font-family="Liberation Sans, sans-serif" font-size="9" fill="#111" text-anchor="middle">20 mins</text>
<text x="604.8" y="376.6" font-family="Liberation Sans, sans-serif" font-size="9" fill="#111" text-anchor="middle">30 mins</text>
<text x="647.9" y="376.6" font-family="Liberation Sans, sans-serif" font-size="9" fill="#111" text-anchor="middle">Negative</text>
<text x="647.9" y="386.8" font-family="Liberation Sans, sans-serif" font-size="9" fill="#111" text-anchor="middle">control</text>
<text x="516.1" y="395.1" font-family="Liberation Sans, sans-serif" font-size="12.1" fill="#111" text-anchor="middle">Incubation time</text>
</svg>
</body></html>
